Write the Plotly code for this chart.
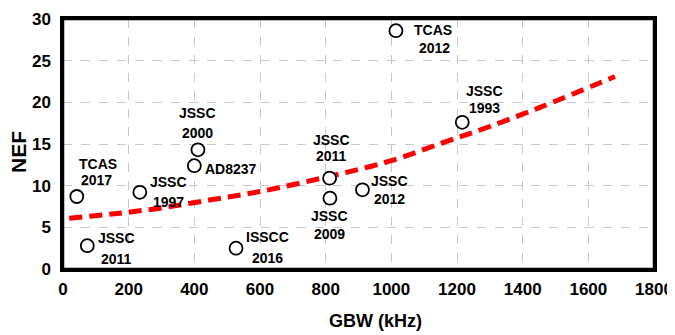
import plotly.graph_objects as go

# Data points (GBW in kHz, NEF)
gbw = [42, 74, 234, 411, 400, 527, 812, 813, 912, 1014, 1216]
nef = [8.7, 2.8, 9.2, 14.3, 12.4, 2.5, 10.9, 8.5, 9.5, 28.6, 17.6]
labels = [["TCAS", "2017"], ["JSSC", "2011"], ["JSSC", "1997"], ["JSSC", "2000"],
          ["AD8237"], ["ISSCC", "2016"], ["JSSC", "2011"], ["JSSC", "2009"],
          ["JSSC", "2012"], ["TCAS", "2012"], ["JSSC", "1993"]]

# Trend line
trend_x = [19, 150, 295, 450, 600, 810, 1000, 1160, 1300, 1453, 1681]
trend_y = [6.1, 6.6, 7.3, 8.3, 9.3, 11.1, 13.0, 15.2, 17.1, 19.4, 23.1]

x_ticks = [0, 200, 400, 600, 800, 1000, 1200, 1400, 1600, 1800]
y_ticks = [0, 5, 10, 15, 20, 25, 30]

# label line offsets (pixels: dx, dy up)
offsets = [[(21, 33), (20, 17)], [(29, 8), (29, -13)], [(29, 10), (29, -10)],
           [(0, 37), (0, 17)], [(37, -3)], [(31, 11), (31, -10)],
           [(2, 38), (2, 22)], [(0, -18), (0, -36)], [(27, 9), (27, -9)],
           [(37, 1), (39, -17)], [(22, 31), (22, 14)]]

FONT = "Liberation Sans, Arial, sans-serif"
# page has an 8px body margin; figure sized to fit the 675x335 window
OFF = 8
W, H = 675 - OFF, 335 - OFF
ml, mr, mt, mb = 63 - OFF, 21, 19 - OFF, 66
pw, ph = W - ml - mr, H - mt - mb

fig = go.Figure()
fig.add_trace(go.Scatter(x=trend_x, y=trend_y, mode="lines",
                         line=dict(color="#ff0000", width=5, dash="13px,7px", shape="spline"),
                         hoverinfo="skip", showlegend=False))
fig.add_trace(go.Scatter(x=gbw, y=nef, mode="markers",
                         marker=dict(symbol="circle", size=13, color="white",
                                     line=dict(color="black", width=1.8)),
                         showlegend=False))

anns = []
for xi, yi, labs, offs in zip(gbw, nef, labels, offsets):
    for t, (dx, dy) in zip(labs, offs):
        anns.append(dict(x=xi, y=yi, xref="x", yref="y", text="<b>%s</b>" % t,
                         showarrow=False, xshift=dx, yshift=dy,
                         xanchor="center", yanchor="middle",
                         font=dict(family=FONT, size=14, color="black")))
anns.append(dict(x=(375 - 63) / pw, y=(269 - 321) / ph, xref="paper", yref="paper",
                 text="<b>GBW (kHz)</b>", showarrow=False, xanchor="center", yanchor="middle",
                 font=dict(family=FONT, size=18, color="black")))
anns.append(dict(x=(18 - 63) / pw, y=(269 - 152) / ph, xref="paper", yref="paper",
                 text="<b>NEF</b>", textangle=-90, showarrow=False,
                 xanchor="center", yanchor="middle",
                 font=dict(family=FONT, size=21, color="black")))

fig.update_layout(
    width=W, height=H,
    margin=dict(l=ml, r=mr, t=mt, b=mb),
    plot_bgcolor="white", paper_bgcolor="white",
    annotations=anns,
    font=dict(family=FONT, color="black"),
    shapes=[dict(type="rect", xref="paper", yref="paper", x0=0, x1=1, y0=0, y1=1,
                 line=dict(color="#000000", width=2.5), fillcolor="rgba(0,0,0,0)",
                 layer="above")],
)
common = dict(tickfont=dict(family=FONT, size=17, color="black"),
              showgrid=True, gridcolor="#c8c8c8", griddash="dash", gridwidth=1,
              zeroline=False, showline=True, mirror="all", linecolor="#000000", linewidth=2.5,
              layer="above traces",
              ticks="outside", tickcolor="rgba(0,0,0,0)", automargin=False)
fig.update_xaxes(range=[0, 1800], tickvals=x_ticks, ticktext=["<b>%d</b>" % v for v in x_ticks],
                 ticklen=3, **common)
fig.update_yaxes(range=[0, 30], tickvals=y_ticks, ticktext=["<b>%d</b>" % v for v in y_ticks],
                 ticklen=6, **common)

fig.write_html("out.html")
